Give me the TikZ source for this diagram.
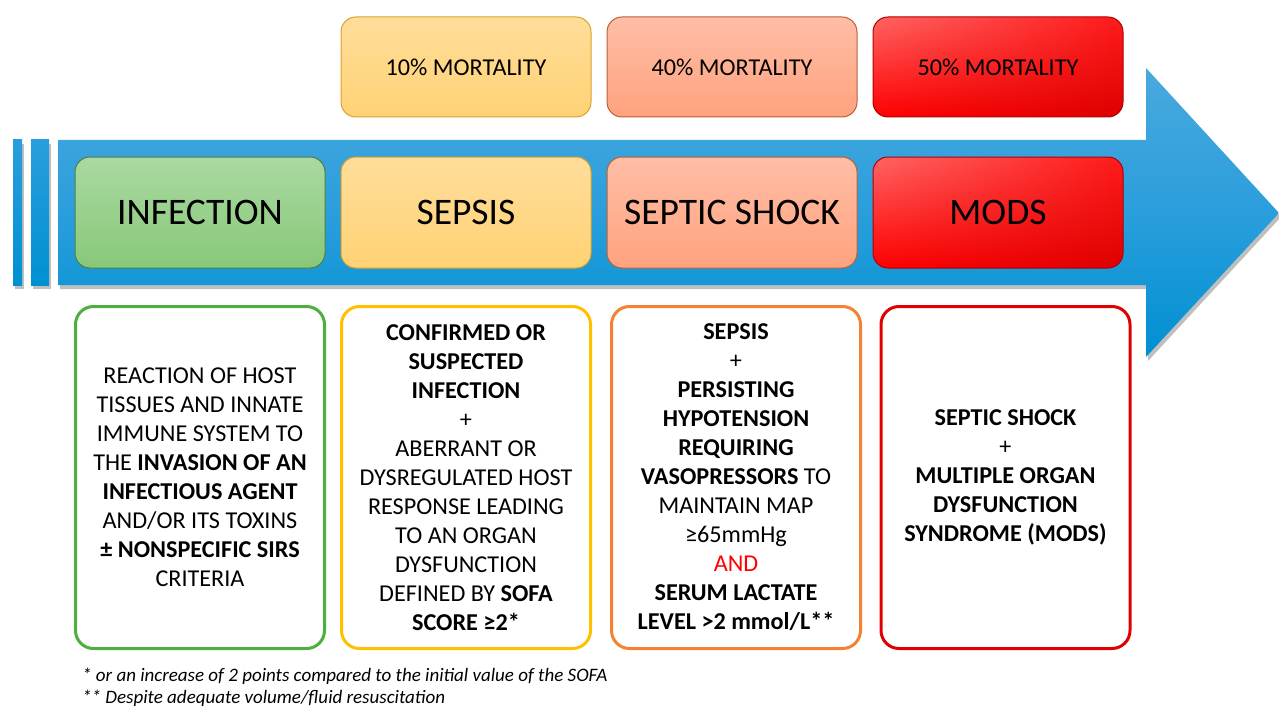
\documentclass[tikz,border=0pt]{standalone}
\usepackage{fontspec}
\setmainfont{Carlito}
\usetikzlibrary{shadings}
\definecolor{arrowtop}{HTML}{4AA9DE}
\definecolor{arrowmid}{HTML}{2A9EDC}
\definecolor{arrowbot}{HTML}{0090D2}
\definecolor{grtop}{HTML}{AAD9A2}
\definecolor{grbot}{HTML}{88C878}
\definecolor{grline}{HTML}{4E7F45}
\definecolor{yetop}{HTML}{FFDD9A}
\definecolor{yebot}{HTML}{FFD274}
\definecolor{yeline}{HTML}{D9A22A}
\definecolor{ortop}{HTML}{FFBEA6}
\definecolor{orbot}{HTML}{FFA27E}
\definecolor{orline}{HTML}{B8603A}
\definecolor{rdline}{HTML}{B00000}
\definecolor{rdul}{HTML}{FF6464}
\definecolor{rdur}{HTML}{FF1A1A}
\definecolor{rdll}{HTML}{FF0000}
\definecolor{rdlr}{HTML}{DD0000}
\definecolor{bgreen}{HTML}{4CAF3E}
\definecolor{byellow}{HTML}{FFC000}
\definecolor{borange}{HTML}{F58232}
\definecolor{bred}{HTML}{E00000}
\definecolor{andred}{HTML}{FF0000}
\begin{document}
\begin{tikzpicture}[x=1pt,y=-1pt,
  stagebox/.style={draw, line width=1pt, rounded corners=15pt, minimum width=250pt, minimum height=111pt, inner sep=0pt, font=\fontsize{37.5}{42}\selectfont},
  mortbox/.style={draw, line width=1pt, rounded corners=15pt, minimum width=250pt, minimum height=100pt, inner sep=0pt, font=\fontsize{24.2}{29}\selectfont},
  redfill/.style={shading=bilinear interpolation, upper left=rdul, upper right=rdur, lower left=rdll, lower right=rdlr},
  descbox/.style={draw, line width=3pt, rounded corners=18pt, minimum width=249pt, minimum height=342pt, inner sep=0pt, align=center, font=\fontsize{24.2}{29}\selectfont},
  notetext/.style={anchor=base west, inner sep=0pt, font=\fontsize{19}{22}\selectfont\itshape}
]
\useasboundingbox (0,0) rectangle (1279,706);
\def\arrowpath{(58,140) -- (1146,140) -- (1146,68) -- (1279,213) -- (1146,357) -- (1146,285) -- (58,285) -- cycle}
% arrow shadow
\fill[black, opacity=0.25] [xshift=2pt, yshift=-4pt] \arrowpath;
\fill[black, opacity=0.25] (15,144) rectangle (24,289);
\fill[black, opacity=0.25] (33,144) rectangle (51,289);
% arrow
\shade[top color=arrowtop, bottom color=arrowbot, middle color=arrowmid] \arrowpath;
\shade[top color=arrowmid, bottom color=arrowbot] (13,140) rectangle (22,285);
\shade[top color=arrowmid, bottom color=arrowbot] (31,140) rectangle (49,285);
% top mortality boxes
\node[mortbox, draw=yeline, top color=yetop, bottom color=yebot] (m10) at (466,67) {10\% MORTALITY};
\node[mortbox, draw=orline, top color=ortop, bottom color=orbot] (m40) at (732,67) {40\% MORTALITY};
\node[mortbox, draw=rdline, redfill] (m50) at (998,67) {50\% MORTALITY};
% stage boxes
\node[stagebox, draw=grline, top color=grtop, bottom color=grbot] (infection) at (200,212.5) {INFECTION};
\node[stagebox, draw=yeline, top color=yetop, bottom color=yebot] (sepsis) at (466,212.5) {SEPSIS};
\node[stagebox, draw=orline, top color=ortop, bottom color=orbot] (shock) at (732,212.5) {SEPTIC SHOCK};
\node[stagebox, draw=rdline, redfill] (mods) at (998,212.5) {MODS};
% description boxes
\node[descbox, draw=bgreen] (dinf) at (200,477.5) {REACTION OF HOST\\TISSUES AND INNATE\\IMMUNE SYSTEM TO\\THE \textbf{INVASION OF AN}\\\textbf{INFECTIOUS AGENT}\\AND/OR ITS TOXINS\\\textbf{± NONSPECIFIC SIRS}\\CRITERIA};
\node[descbox, draw=byellow] (dsep) at (466,477.5) {\textbf{CONFIRMED OR}\\\textbf{SUSPECTED}\\\textbf{INFECTION}\\+\\ABERRANT OR\\DYSREGULATED HOST\\RESPONSE LEADING\\TO AN ORGAN\\DYSFUNCTION\\DEFINED BY \textbf{SOFA}\\\textbf{SCORE ≥2*}};
\node[descbox, draw=borange] (dshock) at (736,477.5) {\textbf{SEPSIS}\\+\\\textbf{PERSISTING}\\\textbf{HYPOTENSION}\\\textbf{REQUIRING}\\\textbf{VASOPRESSORS} TO\\MAINTAIN MAP\\≥65mmHg\\\textcolor{andred}{AND}\\\textbf{SERUM LACTATE}\\\textbf{LEVEL >2 mmol/L**}};
\node[descbox, draw=bred] (dmods) at (1005.5,477.5) {\textbf{SEPTIC SHOCK}\\+\\\textbf{MULTIPLE ORGAN}\\\textbf{DYSFUNCTION}\\\textbf{SYNDROME (MODS)}};
% footnotes
\node[notetext] (note1) at (82,681) {* or an increase of 2 points compared to the initial value of the SOFA};
\node[notetext] (note2) at (82,703) {** Despite adequate volume/fluid resuscitation};
\end{tikzpicture}
\end{document}
